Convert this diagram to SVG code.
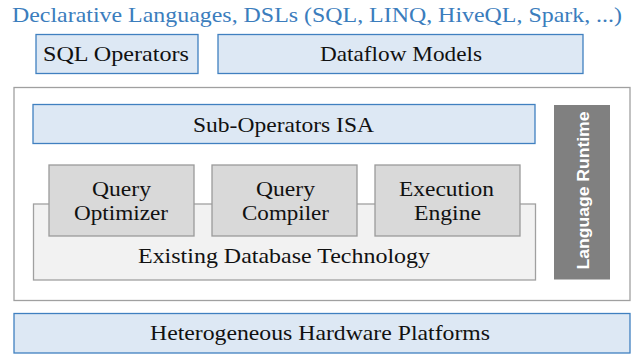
<svg xmlns="http://www.w3.org/2000/svg" width="636" height="354" viewBox="0 0 636 354">
<style>
text.t{font-family:'Liberation Serif','Times New Roman',serif;font-size:21px;fill:#111111;}
text.title{fill:#3b7dbd;}
.blue{fill:#dde8f4;stroke:#4080c0;stroke-width:1.3;}
.gray{fill:#d9d9d9;stroke:#9a9a9a;stroke-width:1.3;}
.light{fill:#f2f2f2;stroke:#a0a0a0;stroke-width:1.3;}
.frame{fill:#ffffff;stroke:#a0a0a0;stroke-width:1.3;}
text.rt{font-family:'Liberation Sans','DejaVu Sans',sans-serif;font-weight:bold;font-size:17px;fill:#ffffff;}
</style>
<rect width="636" height="354" fill="#ffffff"/>
<g id="title">
<text class="t title" x="12" y="22" textLength="610" lengthAdjust="spacingAndGlyphs">Declarative Languages, DSLs (SQL, LINQ, HiveQL, Spark, ...)</text>
</g>
<g id="sql-operators">
<rect class="blue" x="36" y="34.5" width="162" height="39"/>
<text class="t" x="43" y="61" textLength="146" lengthAdjust="spacingAndGlyphs">SQL Operators</text>
</g>
<g id="dataflow-models">
<rect class="blue" x="218" y="34.5" width="365" height="39"/>
<text class="t" x="320" y="61" textLength="162" lengthAdjust="spacingAndGlyphs">Dataflow Models</text>
</g>
<g id="runtime-frame">
<rect class="frame" x="14" y="87.5" width="616" height="213"/>
</g>
<g id="sub-operators-isa">
<rect class="blue" x="33" y="104.5" width="502" height="39"/>
<text class="t" x="193" y="132" textLength="181" lengthAdjust="spacingAndGlyphs">Sub-Operators ISA</text>
</g>
<g id="existing-db">
<rect class="light" x="33.5" y="204" width="502" height="76"/>
<text class="t" x="138" y="263" textLength="292" lengthAdjust="spacingAndGlyphs">Existing Database Technology</text>
</g>
<g id="query-optimizer">
<rect class="gray" x="49" y="165" width="145" height="71"/>
<text class="t" x="92" y="195.5" textLength="59" lengthAdjust="spacingAndGlyphs">Query</text>
<text class="t" x="74" y="220" textLength="94" lengthAdjust="spacingAndGlyphs">Optimizer</text>
</g>
<g id="query-compiler">
<rect class="gray" x="212" y="165" width="145" height="71"/>
<text class="t" x="256" y="195.5" textLength="59" lengthAdjust="spacingAndGlyphs">Query</text>
<text class="t" x="242" y="220" textLength="87" lengthAdjust="spacingAndGlyphs">Compiler</text>
</g>
<g id="execution-engine">
<rect class="gray" x="375" y="165" width="145" height="71"/>
<text class="t" x="399" y="195.5" textLength="95" lengthAdjust="spacingAndGlyphs">Execution</text>
<text class="t" x="414" y="220" textLength="67" lengthAdjust="spacingAndGlyphs">Engine</text>
</g>
<g id="language-runtime">
<rect x="554" y="105" width="56" height="174.5" fill="#808080"/>
<text class="rt" transform="translate(589,190.5) rotate(-90)" text-anchor="middle" textLength="158" lengthAdjust="spacingAndGlyphs">Language Runtime</text>
</g>
<g id="hardware">
<rect class="blue" x="14" y="313.5" width="616" height="39.5"/>
<text class="t" x="150" y="340" textLength="340" lengthAdjust="spacingAndGlyphs">Heterogeneous Hardware Platforms</text>
</g>
<g id="connectors"></g>
</svg>
